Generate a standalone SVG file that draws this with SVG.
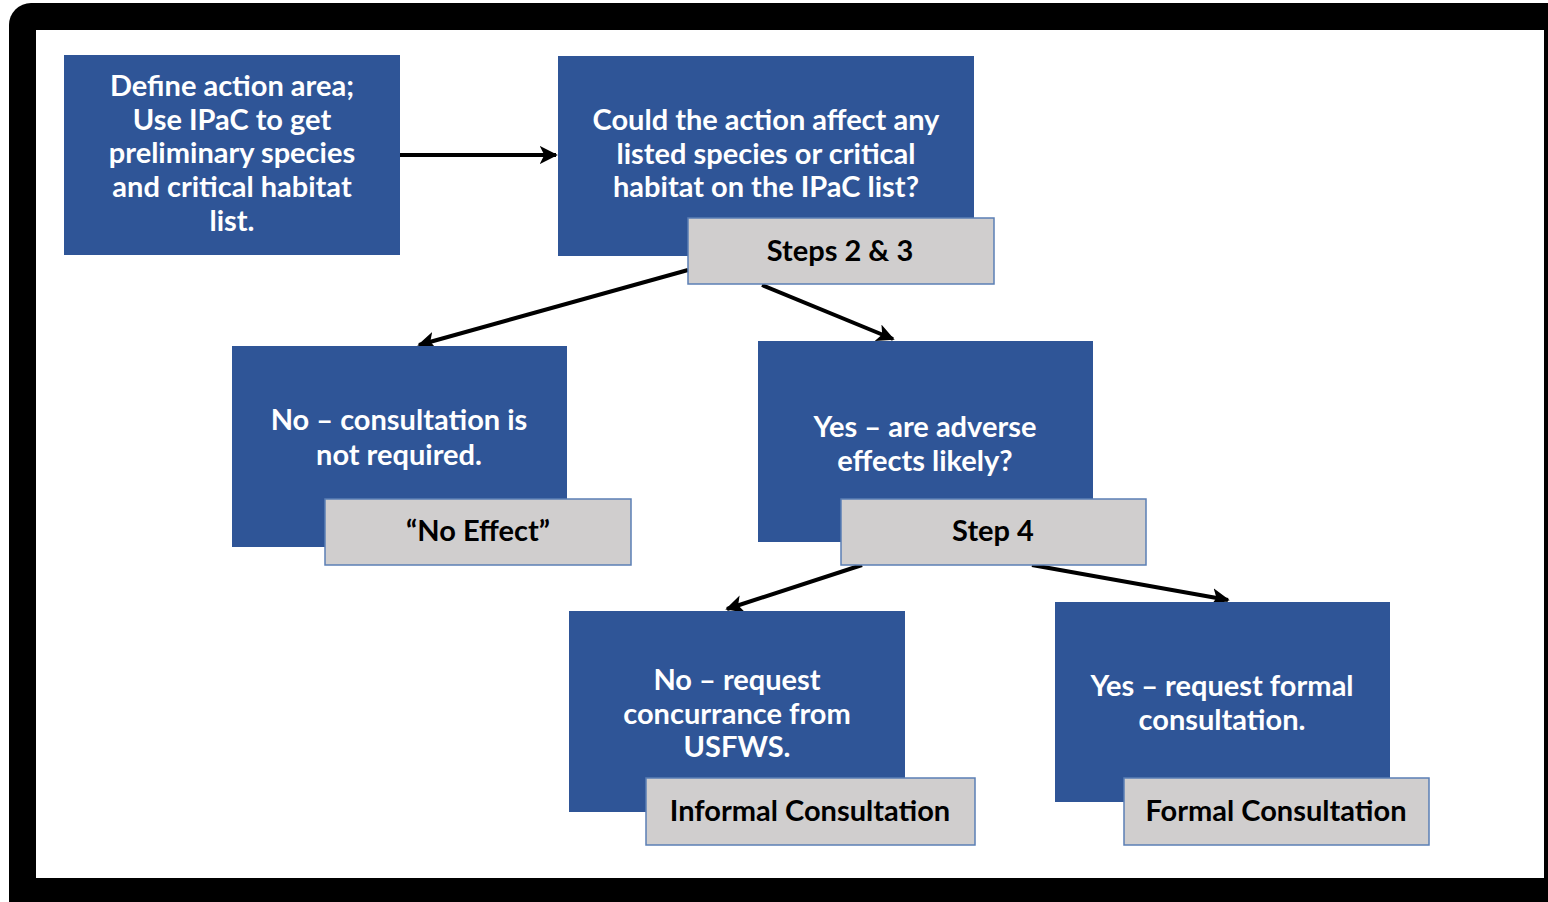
<svg xmlns="http://www.w3.org/2000/svg" width="1548" height="902" viewBox="0 0 1548 902">
<defs>
<style>
.blue{fill:#2f5597;}
.gray{fill:#d0cece;stroke:#5b7fb5;stroke-width:1.5;}
.wt{font-family:Lato,"Open Sans",sans-serif;font-weight:700;font-size:29px;fill:#fff;text-anchor:middle;}
.bt{font-family:Lato,"Open Sans",sans-serif;font-weight:700;font-size:29px;fill:#000;text-anchor:middle;}
.conn{stroke:#000;stroke-width:4;fill:none;marker-end:url(#ah);}
</style>
<marker id="ah" viewBox="0 0 10 10" refX="9" refY="5" markerWidth="4.5" markerHeight="4.5" orient="auto" markerUnits="strokeWidth">
<path d="M0,0 L10,5 L0,10 L2.5,5 z" fill="#000"/>
</marker>
</defs>
<rect x="0" y="0" width="1548" height="902" fill="#fff"/>
<rect x="9" y="3" width="1560" height="920" rx="22" fill="#000"/>
<rect x="36" y="30" width="1508" height="848" fill="#fff"/>
<g id="connectors">
<line class="conn" x1="400" y1="155" x2="556" y2="155"/>
<line class="conn" x1="688" y1="270" x2="419" y2="345"/>
<line class="conn" x1="762" y1="285" x2="893" y2="339"/>
<line class="conn" x1="862" y1="565" x2="727" y2="609"/>
<line class="conn" x1="1032" y1="565" x2="1228" y2="600"/>
</g>
<g id="n1">
<rect class="blue" x="64" y="55" width="336" height="200"/>
<text class="wt" x="232" y="96">Define action area;</text>
<text class="wt" x="232" y="130">Use IPaC to get</text>
<text class="wt" x="232" y="163">preliminary species</text>
<text class="wt" x="232" y="197">and critical habitat</text>
<text class="wt" x="232" y="231">list.</text>
</g>
<g id="n2">
<rect class="blue" x="558" y="56" width="416" height="200"/>
<text class="wt" x="766" y="130">Could the action affect any</text>
<text class="wt" x="766" y="164">listed species or critical</text>
<text class="wt" x="766" y="197">habitat on the IPaC list?</text>
<rect class="gray" x="688" y="218" width="306" height="66"/>
<text class="bt" x="840" y="261">Steps 2 &amp; 3</text>
</g>
<g id="n3">
<rect class="blue" x="232" y="346" width="335" height="201"/>
<text class="wt" x="399" y="430">No – consultation is</text>
<text class="wt" x="399" y="465">not required.</text>
<rect class="gray" x="325" y="499" width="306" height="66"/>
<text class="bt" x="478" y="541">“No Effect”</text>
</g>
<g id="n4">
<rect class="blue" x="758" y="341" width="335" height="201"/>
<text class="wt" x="925" y="437">Yes – are adverse</text>
<text class="wt" x="925" y="471">effects likely?</text>
<rect class="gray" x="841" y="499" width="305" height="66"/>
<text class="bt" x="993" y="541">Step 4</text>
</g>
<g id="n5">
<rect class="blue" x="569" y="611" width="336" height="201"/>
<text class="wt" x="737" y="690">No – request</text>
<text class="wt" x="737" y="724">concurrance from</text>
<text class="wt" x="737" y="757">USFWS.</text>
<rect class="gray" x="646" y="778" width="329" height="67"/>
<text class="bt" x="810" y="821">Informal Consultation</text>
</g>
<g id="n6">
<rect class="blue" x="1055" y="602" width="335" height="200"/>
<text class="wt" x="1222" y="696">Yes – request formal</text>
<text class="wt" x="1222" y="730">consultation.</text>
<rect class="gray" x="1124" y="778" width="305" height="67"/>
<text class="bt" x="1276" y="821">Formal Consultation</text>
</g>
</svg>
